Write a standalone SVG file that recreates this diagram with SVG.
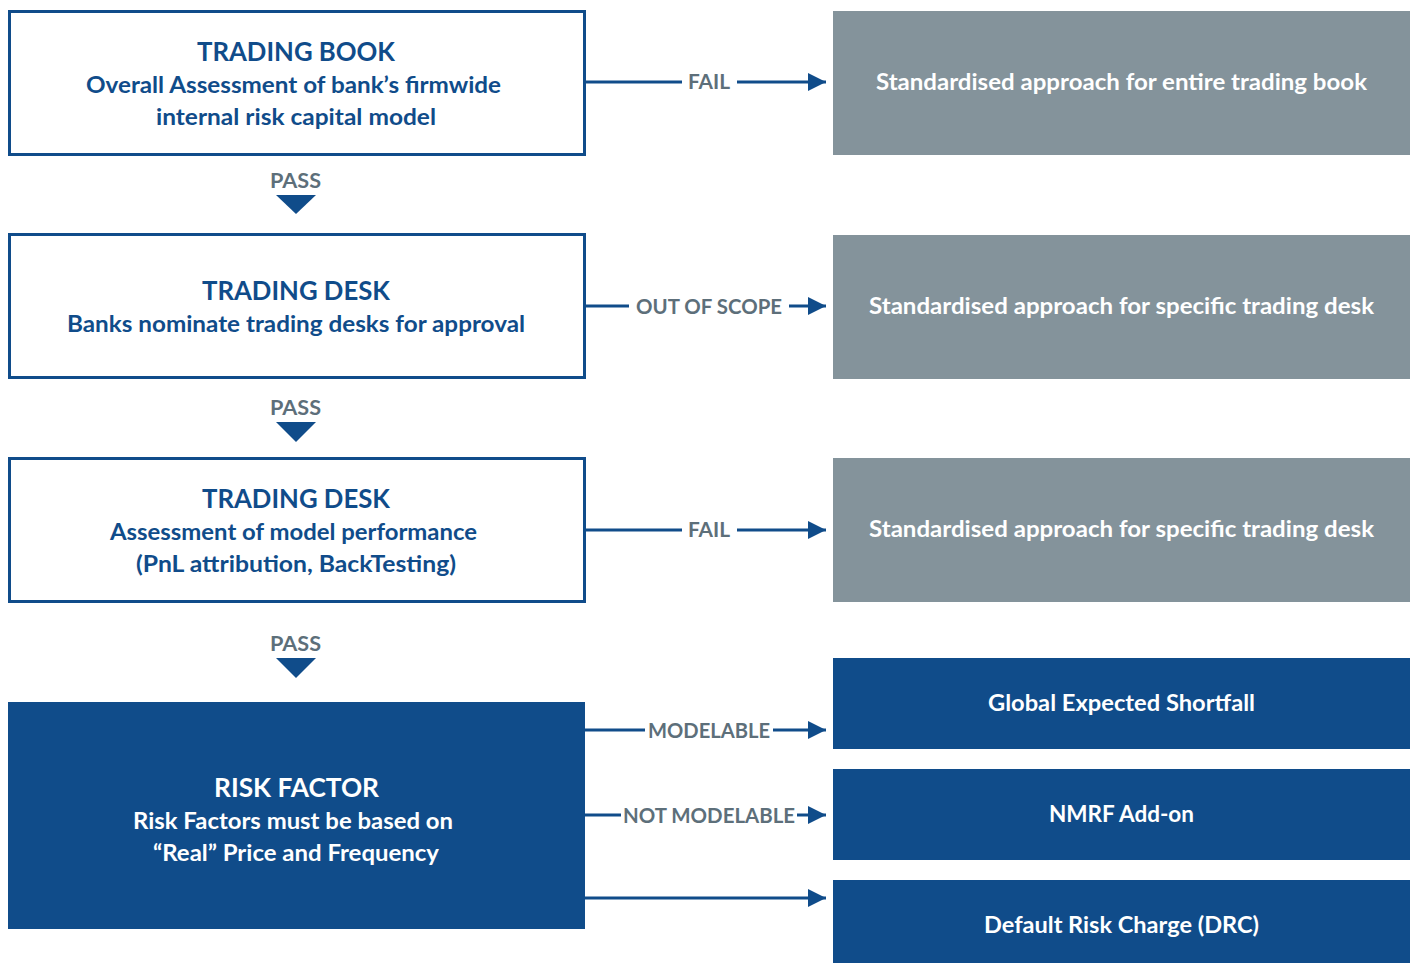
<svg xmlns="http://www.w3.org/2000/svg" width="1414" height="963" viewBox="0 0 1414 963">
  <style>
    .frame { fill: #ffffff; stroke: #104c8a; stroke-width: 3; }
    .grey { fill: #84939b; }
    .blue { fill: #104c8a; }
    .t { font-family: Lato, "Liberation Sans", sans-serif; font-weight: bold; text-anchor: middle; }
    .title { font-size: 27px; }
    .sub { font-size: 22px; }
    .dark { fill: #104c8a; }
    .white { fill: #ffffff; }
    .lbl { font-size: 21px; fill: #5d6f7a; }
    .line { stroke: #104c8a; stroke-width: 3; fill: none; }
    .pass { fill: #104c8a; }
  </style>
  <defs>
    <marker id="arrow" viewBox="0 0 18 18" refX="18" refY="9" markerWidth="18" markerHeight="18" markerUnits="userSpaceOnUse" orient="auto">
      <path d="M0,0 L18,9 L0,18 Z" fill="#104c8a"/>
    </marker>
  </defs>

  <rect width="1414" height="963" fill="#ffffff"/>

  <!-- left column: assessment steps -->
  <g id="trading-book">
    <rect class="frame" x="9.5" y="11.5" width="575" height="143"/>
    <text class="t title dark" x="296" y="61" textLength="198" lengthAdjust="spacingAndGlyphs">TRADING BOOK</text>
    <text class="t sub dark" x="293.5" y="93" textLength="415" lengthAdjust="spacingAndGlyphs">Overall Assessment of bank’s firmwide</text>
    <text class="t sub dark" x="296" y="125" textLength="280" lengthAdjust="spacingAndGlyphs">internal risk capital model</text>
  </g>

  <g id="trading-desk-approval">
    <rect class="frame" x="9.5" y="234.5" width="575" height="143"/>
    <text class="t title dark" x="296" y="300" textLength="188" lengthAdjust="spacingAndGlyphs">TRADING DESK</text>
    <text class="t sub dark" x="296" y="332" textLength="458" lengthAdjust="spacingAndGlyphs">Banks nominate trading desks for approval</text>
  </g>

  <g id="trading-desk-performance">
    <rect class="frame" x="9.5" y="458.5" width="575" height="143"/>
    <text class="t title dark" x="296" y="508" textLength="188" lengthAdjust="spacingAndGlyphs">TRADING DESK</text>
    <text class="t sub dark" x="293.5" y="540" textLength="367" lengthAdjust="spacingAndGlyphs">Assessment of model performance</text>
    <text class="t sub dark" x="296" y="572" textLength="320" lengthAdjust="spacingAndGlyphs">(PnL attribution, BackTesting)</text>
  </g>

  <g id="risk-factor">
    <rect class="blue" x="8" y="702" width="577" height="227"/>
    <text class="t title white" x="296.5" y="797" textLength="165" lengthAdjust="spacingAndGlyphs">RISK FACTOR</text>
    <text class="t sub white" x="293" y="829" textLength="320" lengthAdjust="spacingAndGlyphs">Risk Factors must be based on</text>
    <text class="t sub white" x="296" y="861" textLength="286" lengthAdjust="spacingAndGlyphs">“Real” Price and Frequency</text>
  </g>

  <!-- right column: outcomes -->
  <g id="sa-trading-book">
    <rect class="grey" x="833" y="11" width="577" height="144"/>
    <text class="t sub white" x="1121.5" y="90" textLength="491" lengthAdjust="spacingAndGlyphs">Standardised approach for entire trading book</text>
  </g>

  <g id="sa-desk-scope">
    <rect class="grey" x="833" y="235" width="577" height="144"/>
    <text class="t sub white" x="1121.5" y="314" textLength="505" lengthAdjust="spacingAndGlyphs">Standardised approach for specific trading desk</text>
  </g>

  <g id="sa-desk-performance">
    <rect class="grey" x="833" y="458" width="577" height="144"/>
    <text class="t sub white" x="1121.5" y="537" textLength="505" lengthAdjust="spacingAndGlyphs">Standardised approach for specific trading desk</text>
  </g>

  <g id="global-es">
    <rect class="blue" x="833" y="658" width="577" height="91"/>
    <text class="t sub white" x="1121.5" y="711" textLength="267" lengthAdjust="spacingAndGlyphs">Global Expected Shortfall</text>
  </g>

  <g id="nmrf">
    <rect class="blue" x="833" y="769" width="577" height="91"/>
    <text class="t sub white" x="1121.5" y="822" textLength="145" lengthAdjust="spacingAndGlyphs">NMRF Add-on</text>
  </g>

  <g id="drc">
    <rect class="blue" x="833" y="880" width="577" height="83"/>
    <text class="t sub white" x="1121.5" y="933" textLength="275" lengthAdjust="spacingAndGlyphs">Default Risk Charge (DRC)</text>
  </g>

  <!-- connectors -->
  <g id="connectors">
    <!-- PASS steps down the left column -->
    <text class="t lbl" x="295.5" y="188" textLength="51" lengthAdjust="spacingAndGlyphs">PASS</text>
    <path class="pass" d="M276,195 L316,195 L296,214 Z"/>
    <text class="t lbl" x="295.5" y="415" textLength="51" lengthAdjust="spacingAndGlyphs">PASS</text>
    <path class="pass" d="M276,422 L316,422 L296,442 Z"/>
    <text class="t lbl" x="295.5" y="651" textLength="51" lengthAdjust="spacingAndGlyphs">PASS</text>
    <path class="pass" d="M276,658 L316,658 L296,678 Z"/>

    <!-- FAIL: trading book -->
    <path class="line" d="M585,82 H682"/>
    <path class="line" d="M737,82 H826" marker-end="url(#arrow)"/>
    <text class="t lbl" x="709" y="89" textLength="42" lengthAdjust="spacingAndGlyphs">FAIL</text>

    <!-- OUT OF SCOPE: desk approval -->
    <path class="line" d="M585,306 H629"/>
    <path class="line" d="M789,306 H826" marker-end="url(#arrow)"/>
    <text class="t lbl" x="709" y="314" textLength="146" lengthAdjust="spacingAndGlyphs">OUT OF SCOPE</text>

    <!-- FAIL: desk performance -->
    <path class="line" d="M585,530 H682"/>
    <path class="line" d="M737,530 H826" marker-end="url(#arrow)"/>
    <text class="t lbl" x="709" y="537" textLength="42" lengthAdjust="spacingAndGlyphs">FAIL</text>

    <!-- MODELABLE -->
    <path class="line" d="M585,730 H645"/>
    <path class="line" d="M773,730 H826" marker-end="url(#arrow)"/>
    <text class="t lbl" x="709" y="738" textLength="122" lengthAdjust="spacingAndGlyphs">MODELABLE</text>

    <!-- NOT MODELABLE -->
    <path class="line" d="M585,815 H621"/>
    <path class="line" d="M797,815 H826" marker-end="url(#arrow)"/>
    <text class="t lbl" x="709" y="823" textLength="172" lengthAdjust="spacingAndGlyphs">NOT MODELABLE</text>

    <!-- default risk charge -->
    <path class="line" d="M585,898 H826" marker-end="url(#arrow)"/>
  </g>
</svg>
